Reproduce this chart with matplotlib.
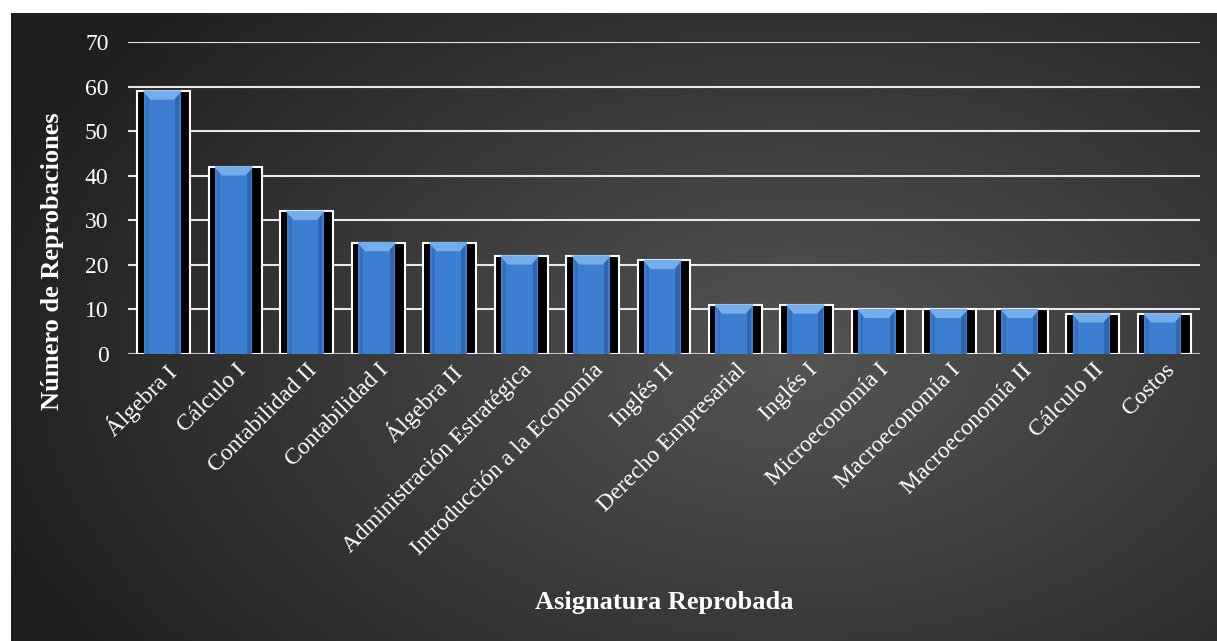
import numpy as np
import matplotlib.pyplot as plt
from matplotlib.patches import Polygon

asignaturas = ['Álgebra I', 'Cálculo I', 'Contabilidad II', 'Contabilidad I',
               'Álgebra II', 'Administración Estratégica',
               'Introducción a la Economía', 'Inglés II', 'Derecho Empresarial',
               'Inglés I', 'Microeconomía I', 'Macroeconomía I',
               'Macroeconomía II', 'Cálculo II', 'Costos']
reprobaciones = [59, 42, 32, 25, 25, 22, 22, 21, 11, 11, 10, 10, 10, 9, 9]
yticks = [0, 10, 20, 30, 40, 50, 60, 70]

plt.rcParams['font.family'] = ['Liberation Serif', 'DejaVu Serif']

W, H = 1217, 641
fig = plt.figure(figsize=(W / 100, H / 100), dpi=100, facecolor='white')

# dark radial gradient panel
bg = fig.add_axes([11 / W, 0, 1 - 11 / W, 1 - 13 / H])
bg.set_axis_off()
gx, gy = np.meshgrid(np.linspace(0, 1, 400), np.linspace(0, 1, 220))
r = np.sqrt(((gx - 0.65) / 0.75) ** 2 + ((gy - 0.55) / 0.9) ** 2)
shade = np.clip(0.33 - 0.22 * r, 0.12, 0.33)
bg.imshow(np.dstack([shade, shade, shade]), aspect='auto', extent=[0, 1, 0, 1],
          interpolation='bilinear')

ax = fig.add_axes([128 / W, 1 - 354 / H, (1200 - 128) / W, (354 - 42) / H])
ax.patch.set_alpha(0)
x = np.arange(len(asignaturas))
vals = np.array(reprobaciones)

ax.set_ylim(0, 70)
ax.set_xlim(-0.5, len(asignaturas) - 0.5)
ax.set_yticks(yticks)
ax.grid(axis='y', color='#e8e8e8', linewidth=1.5)
ax.set_axisbelow(True)

frames = ax.bar(x, vals, width=0.74, color='black', edgecolor='white',
                linewidth=1.5, zorder=2)
blues = ax.bar(x - 0.02, vals, width=0.52, color='#3c7ed0', zorder=3)
ax.bar(x + 0.19, vals, width=0.06, color='#2f66ad', zorder=3)
ax.bar(x - 0.23, vals, width=0.04, color='#3470bd', zorder=3)

# bevel on the top of each bar
for b in blues:
    x0, w, h = b.get_x(), b.get_width(), b.get_height()
    d = 1.8
    poly = Polygon([[x0, h], [x0 + w, h], [x0 + w - 0.1, h - d], [x0 + 0.1, h - d]],
                   closed=True, color='#74ade9', zorder=4)
    ax.add_patch(poly)

for s in ['top', 'bottom', 'left', 'right']:
    ax.spines[s].set_visible(False)
ax.axhline(0, color='#bfbfbf', linewidth=2, zorder=1)
ax.tick_params(length=0, colors='white', labelsize=17)
ax.tick_params(axis='y', pad=14)
ax.tick_params(axis='x', pad=4)
ax.set_xticks(x)
ax.set_xticklabels(asignaturas, rotation=45, ha='right', rotation_mode='anchor',
                   fontsize=17)

fig.text(53 / W, 1 - 261 / H, 'Número de Reprobaciones', color='white',
         fontsize=19, fontweight='bold', rotation=90, ha='center', va='center')
fig.text(664 / W, 1 - 603 / H, 'Asignatura Reprobada', color='white', fontsize=19,
         fontweight='bold', ha='center', va='center')

plt.savefig('out.png', dpi=100, facecolor='white')
